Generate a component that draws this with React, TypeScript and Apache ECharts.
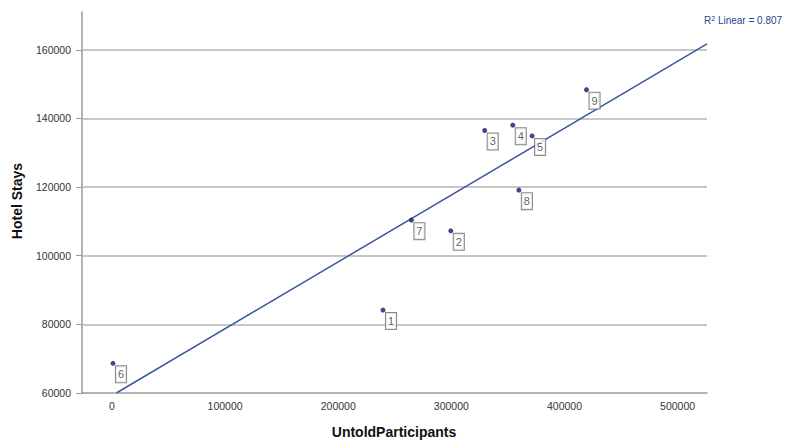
import React, { useEffect, useRef } from "react";
import * as echarts from "echarts";

const caseIds = ["1", "2", "3", "4", "5", "6", "7", "8", "9"];
const participants = [239600, 299500, 329500, 354300, 371400, 900, 264700, 359700, 419500];
const hotelStays = [84160, 107250, 136480, 138020, 134900, 68650, 110360, 119100, 148360];
const xTicks = [0, 100000, 200000, 300000, 400000, 500000];
const yTicks = [60000, 80000, 100000, 120000, 140000, 160000];
const xRange = [-26500, 526000];
const yRange = [60000, 171000];
const r2Text = "0.807";

function fit(xs: number[], ys: number[]) {
  const n = xs.length;
  const mx = xs.reduce((a, b) => a + b, 0) / n;
  const my = ys.reduce((a, b) => a + b, 0) / n;
  let sxy = 0;
  let sxx = 0;
  for (let i = 0; i < n; i++) {
    sxy += (xs[i] - mx) * (ys[i] - my);
    sxx += (xs[i] - mx) * (xs[i] - mx);
  }
  const m = sxy / sxx;
  return { m, b: my - m * mx };
}

export default function App() {
  const ref = useRef<HTMLDivElement>(null);
  useEffect(() => {
    if (!ref.current) return;
    const chart = echarts.init(ref.current, null, { renderer: "svg" });
    const { m, b } = fit(participants, hotelStays);
    const xStart = Math.max(xRange[0], (yRange[0] - b) / m);
    const fitLine = [
      [xStart, m * xStart + b],
      [xRange[1], m * xRange[1] + b],
    ];
    const font = "Liberation Sans, Arial, sans-serif";
    chart.setOption({
      animation: false,
      backgroundColor: "#ffffff",
      textStyle: { fontFamily: font },
      grid: { left: 82, right: 79, top: 12, bottom: 48, containLabel: false },
      xAxis: {
        type: "value",
        min: xRange[0],
        max: xRange[1],
        splitNumber: 5,
        axisLine: { show: true, onZero: false, lineStyle: { color: "#9a9a9a", width: 1.5 } },
        axisTick: { show: false },
        axisLabel: {
          customValues: xTicks,
          formatter: (v: number) => String(v),
          color: "#333333",
          fontSize: 10.5,
          margin: 7,
          fontFamily: font,
        },
        splitLine: { show: false },
      },
      yAxis: {
        type: "value",
        min: yRange[0],
        max: yRange[1],
        interval: 20000,
        axisLine: { show: true, onZero: false, lineStyle: { color: "#9a9a9a", width: 1.5 } },
        axisTick: {
          show: true,
          customValues: yTicks,
          length: 6,
          lineStyle: { color: "#9a9a9a", width: 1 },
        },
        axisLabel: {
          customValues: yTicks,
          formatter: (v: number) => String(v),
          color: "#333333",
          fontSize: 10.5,
          margin: 11,
          fontFamily: font,
        },
        splitLine: { show: false },
      },
      series: [
        {
          type: "line",
          data: fitLine,
          symbol: "none",
          z: 2,
          lineStyle: { color: "#3d56a3", width: 1.5 },
          markLine: {
            silent: true,
            symbol: "none",
            label: { show: false },
            lineStyle: { color: "#b4b4b4", width: 1.5, type: "solid" },
            data: yTicks.slice(1).map((v) => ({ yAxis: v })),
            z: 1,
          },
        },
        {
          type: "scatter",
          z: 3,
          symbolSize: 5,
          itemStyle: { color: "#0c1b70" },
          data: participants.map((x, i) => ({ value: [x, hotelStays[i]], name: caseIds[i] })),
          label: {
            show: true,
            formatter: (p: any) => p.name,
            position: "inside",
            offset: [8, 11],
            fontSize: 11,
            lineHeight: 13,
            color: "#333333",
            backgroundColor: "#ffffff",
            borderColor: "#6a6a6a",
            borderWidth: 1,
            padding: [2, 2, 1, 2],
            fontFamily: font,
          },
        },
      ],
      graphic: [
        {
          type: "text",
          x: 17,
          y: 201,
          rotation: Math.PI / 2,
          style: {
            text: "Hotel Stays",
            fontSize: 14,
            fontWeight: "bold",
            fill: "#111111",
            fontFamily: font,
            align: "center",
            verticalAlign: "middle",
          },
        },
        {
          type: "text",
          x: 394,
          y: 432,
          style: {
            text: "UntoldParticipants",
            fontSize: 14,
            fontWeight: "bold",
            fill: "#111111",
            fontFamily: font,
            align: "center",
            verticalAlign: "middle",
          },
        },
        {
          type: "text",
          x: 704,
          y: 20,
          style: {
            text: "{a|R}{s|2}{a| Linear = " + r2Text + "}",
            fontFamily: font,
            verticalAlign: "middle",
            rich: {
              a: { fontSize: 10, fill: "#2f3f8f", fontFamily: font },
              s: { fontSize: 7, fill: "#2f3f8f", verticalAlign: "top", fontFamily: font },
            },
          },
        },
      ],
    });
    return () => chart.dispose();
  }, []);
  return (
    <div
      ref={ref}
      style={{ position: "fixed", left: 0, top: 0, width: 786, height: 441 }}
    />
  );
}
